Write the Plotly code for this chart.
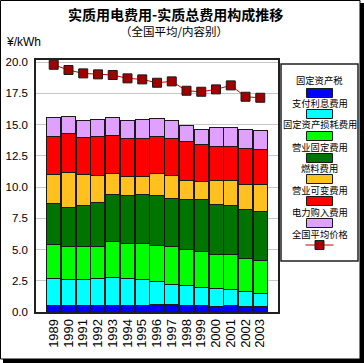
import plotly.graph_objects as go

years = ["1989", "1990", "1991", "1992", "1993", "1994", "1995", "1996",
         "1997", "1998", "1999", "2000", "2001", "2002", "2003"]

fixed_asset_tax = [0.52, 0.52, 0.52, 0.52, 0.52, 0.52, 0.52, 0.60, 0.60, 0.52, 0.52, 0.47, 0.52, 0.47, 0.47]
interest_cost = [2.14, 2.08, 2.08, 2.17, 2.25, 2.17, 2.08, 1.82, 1.63, 1.58, 1.44, 1.41, 1.26, 1.17, 0.99]
depreciation = [2.75, 2.62, 2.62, 2.53, 2.91, 2.83, 2.92, 2.91, 2.99, 2.93, 2.92, 2.70, 2.80, 2.67, 2.67]
op_fixed = [3.26, 3.13, 3.29, 3.53, 3.74, 3.82, 3.90, 4.01, 3.85, 4.01, 4.11, 4.04, 3.96, 3.88, 3.90]
fuel = [2.33, 2.78, 2.49, 2.14, 1.63, 1.50, 1.42, 1.73, 1.85, 1.50, 1.42, 1.89, 1.97, 2.03, 2.19]
op_variable = [3.07, 3.12, 2.99, 3.15, 3.10, 3.01, 3.06, 3.00, 2.98, 3.10, 2.96, 2.73, 2.73, 2.86, 2.78]
power_purchase = [1.47, 1.39, 1.36, 1.34, 1.39, 1.45, 1.48, 1.42, 1.40, 1.26, 1.26, 1.49, 1.49, 1.55, 1.52]
avg_price = [19.78, 19.36, 19.09, 19.01, 18.96, 18.69, 18.61, 18.34, 18.45, 17.70, 17.62, 17.81, 18.13, 17.22, 17.14]

series_names = ["固定资产税", "支付利息费用", "固定资产损耗费用", "营业固定费用",
                "燃料费用", "营业可变费用", "电力购入费用"]
series_vals = [fixed_asset_tax, interest_cost, depreciation, op_fixed,
               fuel, op_variable, power_purchase]
series_colors = ["#0000FF", "#00FFFF", "#00FF00", "#007400",
                 "#FFC020", "#FF0000", "#E0A0FF"]
line_name = "全国平均价格"

W, H = 364, 363
L, R, T, B = 36, 278, 60, 312

fig = go.Figure()
for name, vals, col in zip(series_names, series_vals, series_colors):
    fig.add_trace(go.Bar(x=years, y=vals, name=name, marker_color=col,
                         marker_line_color="#1a1a1a", marker_line_width=1,
                         showlegend=False))
fig.add_trace(go.Scatter(x=years, y=avg_price, name=line_name, mode="lines+markers",
                         line=dict(color="#CC0000", width=1),
                         marker=dict(symbol="square", size=9, color="#A00000",
                                     line=dict(color="#1a1a1a", width=1)),
                         showlegend=False))

def px(x):
    return (x - L) / (R - L)

def py(y):
    return (B - y) / (B - T)

shapes = []
annotations = []
# outer frame with shadow
shapes.append(dict(type="rect", xref="paper", yref="paper", x0=px(360), x1=px(364),
                   y0=py(363), y1=py(3), fillcolor="black", line_width=0))
shapes.append(dict(type="rect", xref="paper", yref="paper", x0=px(3), x1=px(364),
                   y0=py(363), y1=py(359), fillcolor="black", line_width=0))
shapes.append(dict(type="rect", xref="paper", yref="paper", x0=px(0.5), x1=px(360),
                   y0=py(359), y1=py(0.5), line=dict(color="black", width=1)))
# legend box
lx0, lx1, ly0, ly1 = 281, 358, 64, 261
shapes.append(dict(type="rect", xref="paper", yref="paper", x0=px(lx0), x1=px(lx1),
                   y0=py(ly1), y1=py(ly0), line=dict(color="#202020", width=1.5),
                   fillcolor="white"))
cx = (lx0 + lx1) / 2
label_y = [80, 103, 124, 147, 168, 190, 212, 234]
swatch_y = [93, 114, 136, 158, 179, 201, 223]
for i, name in enumerate(series_names):
    annotations.append(dict(x=px(cx), y=py(label_y[i]), xref="paper", yref="paper",
                            text=name, showarrow=False, xanchor="center", yanchor="middle",
                            font=dict(family="Noto Sans CJK SC", size=9.3, color="black")))
    shapes.append(dict(type="rect", xref="paper", yref="paper", x0=px(cx - 13), x1=px(cx + 13),
                       y0=py(swatch_y[i] + 4.5), y1=py(swatch_y[i] - 4.5),
                       fillcolor=series_colors[i], line=dict(color="#1a1a1a", width=1)))
annotations.append(dict(x=px(cx), y=py(label_y[7]), xref="paper", yref="paper",
                        text=line_name, showarrow=False, xanchor="center", yanchor="middle",
                        font=dict(family="Noto Sans CJK SC", size=9.3, color="black")))
shapes.append(dict(type="line", xref="paper", yref="paper", x0=px(cx - 14), x1=px(cx + 14),
                   y0=py(245), y1=py(245), line=dict(color="#CC0000", width=1)))
shapes.append(dict(type="rect", xref="paper", yref="paper", x0=px(cx - 4.5), x1=px(cx + 4.5),
                   y0=py(249.5), y1=py(240.5), fillcolor="#A00000",
                   line=dict(color="#1a1a1a", width=1)))

# titles
annotations.append(dict(x=px(175), y=py(14), xref="paper", yref="paper",
                        text="<b>实质用电费用-实质总费用构成推移</b>", showarrow=False,
                        xanchor="center", yanchor="middle",
                        font=dict(family="Noto Sans CJK SC", size=14, color="black")))
annotations.append(dict(x=px(174), y=py(31), xref="paper", yref="paper",
                        text="（全国平均/内容别）", showarrow=False,
                        xanchor="center", yanchor="middle",
                        font=dict(family="Noto Sans CJK SC", size=11.5, color="black")))
annotations.append(dict(x=px(4), y=py(42), xref="paper", yref="paper",
                        text="¥/kWh", showarrow=False, xanchor="left", yanchor="middle",
                        font=dict(family="Liberation Sans", size=12, color="black")))

fig.update_layout(
    template="none",
    width=W, height=H,
    margin=dict(l=L, r=W - R, t=T, b=H - B, pad=0, autoexpand=False),
    barmode="stack", bargap=0.05,
    paper_bgcolor="white", plot_bgcolor="white",
    showlegend=False,
    shapes=shapes, annotations=annotations,
    xaxis=dict(type="category", tickmode="array", tickvals=years, ticktext=years,
               tickangle=-90, showline=True, mirror=True, automargin=False,
               linecolor="#202020", linewidth=1.5, ticks="", showgrid=False,
               tickfont=dict(family="Liberation Sans", size=13, color="black")),
    yaxis=dict(range=[0, 20.16], dtick=2.5, tick0=0, tickformat=".1f",
               showline=True, mirror=True, linecolor="#202020", linewidth=1.5,
               showgrid=True, gridcolor="#C8C8C8", gridwidth=1, zeroline=False,
               ticks="", ticklabelstandoff=4, automargin=False,
               tickfont=dict(family="Liberation Sans", size=11.5, color="black")),
)

fig.write_html("out.html",
               config={"displayModeBar": False},
               post_script="document.body.style.margin='0px';document.body.style.overflow='hidden';")
